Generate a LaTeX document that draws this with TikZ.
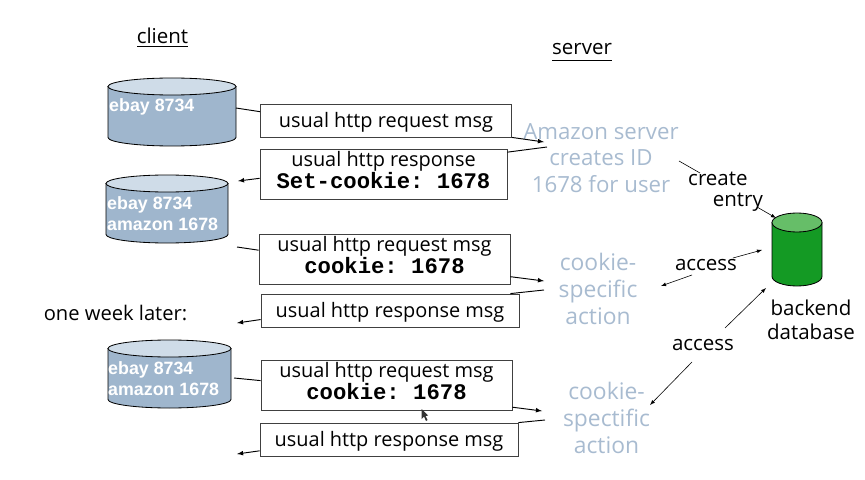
\documentclass[tikz,border=0pt]{standalone}
\usepackage{fontspec}
\setmainfont{Open Sans}
\setsansfont{Liberation Sans}
\setmonofont{Liberation Mono}
\usetikzlibrary{positioning,shapes,arrows}

\definecolor{dbblue}{HTML}{9FB6CD}
\definecolor{dbbluetop}{HTML}{CFDCE8}
\definecolor{servertxt}{HTML}{A8BBD0}
\definecolor{dbgreen}{HTML}{149A24}
\definecolor{dbgreentop}{HTML}{66BE68}

% center x, top y, bottom y, x radius, y radius, body colour, top colour
\newcommand{\dbcan}[7]{
  \draw[line width=0.7, fill=#6] (#1-#4,#2+#5) -- (#1-#4,#3-#5)
    arc[start angle=180, end angle=0, x radius=#4, y radius=#5] -- (#1+#4,#2+#5) -- cycle;
  \draw[line width=0.7, fill=#7] (#1,#2+#5) ellipse[x radius=#4, y radius=#5];
}
\newcommand{\cookiefont}{\ttfamily\bfseries\fontsize{19}{21}\selectfont}

\tikzset{
  msgbox/.style={draw=black!75, line width=0.7, fill=white, inner sep=0, align=center, font=\fontsize{17}{19}\selectfont},
  msgsingle/.style={msgbox, text height=12pt, text depth=0pt},
  msgdouble/.style={msgbox, text depth=7pt},
  dbtext/.style={text=white, font=\sffamily\bfseries\fontsize{15.2}{18}\selectfont, align=left, inner sep=0, anchor=north west},
  servertext/.style={text=servertxt, align=center, inner sep=0, font=\fontsize{19.5}{23}\selectfont},
  blacktext/.style={text=black, align=center, inner sep=0, font=\fontsize{17.5}{20}\selectfont},
  msgline/.style={line width=0.8, black},
  msgarrow/.style={line width=0.8, black, -latex},
  thinarrow/.style={line width=0.5, black, -latex}
}

\begin{document}
\begin{tikzpicture}[x=0.03cm, y=-0.03cm]
\useasboundingbox (0,0) rectangle (865,480);

% client storage
\dbcan{172}{78}{146}{64}{8.5}{dbblue}{dbbluetop}
\dbcan{167}{175}{243}{61}{8.5}{dbblue}{dbbluetop}
\dbcan{169.5}{340}{408}{61.5}{8.5}{dbblue}{dbbluetop}
\node[dbtext] (cookietxt1) at (109,98) {ebay 8734};
\node[dbtext] (cookietxt2) at (107,196) {ebay 8734\\amazon 1678};
\node[dbtext] (cookietxt3) at (108,361) {ebay 8734\\amazon 1678};

% messages
\node[msgsingle, minimum width=7.53cm, minimum height=0.99cm] (req1) at (386,120.5) {usual http request msg};
\node[msgdouble, minimum width=7.41cm, minimum height=1.5cm] (resp1) at (383.5,174) {usual http response\\[-1pt]{\cookiefont Set-cookie: 1678}};
\node[msgdouble, minimum width=7.53cm, minimum height=1.5cm] (req2) at (384.5,259) {usual http request msg\\[-1pt]{\cookiefont cookie: 1678}};
\node[msgsingle, minimum width=7.74cm, minimum height=0.99cm] (resp2) at (390,310.5) {usual http response msg};
\node[msgdouble, minimum width=7.53cm, minimum height=1.5cm] (req3) at (386.5,385) {usual http request msg\\[-1pt]{\cookiefont cookie: 1678}};
\node[msgsingle, minimum width=7.74cm, minimum height=0.99cm] (resp3) at (389,439.5) {usual http response msg};

% server side
\node[servertext, font=\fontsize{19}{22.5}\selectfont] (amazon) at (601,158) {Amazon server\\creates ID\\1678 for user};
\node[servertext] (action1) at (598,289) {cookie-\\specific\\action};
\node[servertext] (action2) at (606.5,418) {cookie-\\spectific\\action};

% backend
\dbcan{797}{213}{286}{25}{9.5}{dbgreen}{dbgreentop}
\node[blacktext] (backendtxt) at (811,320) {backend\\database};

% labels
\node[blacktext] (client) at (162.5,36) {client};
\draw[line width=0.8] (137,46) -- (188,46);
\node[blacktext] (server) at (582,49) {server};
\draw[line width=0.8] (552,60) -- (612,60);
\node[blacktext, font=\fontsize{17.2}{20}\selectfont] (later) at (115.5,313) {one week later:};
\node[blacktext, align=left, anchor=north west, font=\fontsize{17.5}{18}\selectfont] (create) at (688,172) {create\\\hspace*{21pt}entry};
\node[blacktext] (access1) at (706,265) {access};
\node[blacktext] (access2) at (703,345) {access};

% free ends
\coordinate (a1) at (236,108);
\coordinate (a2) at (544,142);
\coordinate (a3) at (547,147);
\coordinate (a4) at (238,181);
\coordinate (a5) at (237,247);
\coordinate (a6) at (544,281);
\coordinate (a7) at (544,290);
\coordinate (a8) at (237,323);
\coordinate (a9) at (234,378);
\coordinate (a10) at (542,411);
\coordinate (a11) at (545,420);
\coordinate (a12) at (237,454);
\coordinate (b1) at (679,161);
\coordinate (b2) at (700,173);
\coordinate (b3) at (757,207);
\coordinate (b4) at (776,218);
\coordinate (b5) at (733,258);
\coordinate (b6) at (762,250);
\coordinate (b7) at (692,275);
\coordinate (b8) at (661,286);
\coordinate (b9) at (725,328);
\coordinate (b10) at (766,288);
\coordinate (b11) at (692,362);
\coordinate (b12) at (650,405);

% connectors
\draw[msgline] (a1) -- (req1.176);
\draw[msgarrow] (req1.south east) -- (a2);
\draw[msgline] (a3) -- (resp1.10);
\draw[msgarrow] (resp1.182) -- (a4);
\draw[msgline] (a5) -- (req2.176);
\draw[msgarrow] (req2.-8) -- (a6);
\draw[msgline] (a7) -- (resp2.8);
\draw[msgarrow] (resp2.184) -- (a8);
\draw[msgline] (a9) -- (req3.178);
\draw[msgarrow] (req3.-10) -- (a10);
\draw[msgline] (a11) -- (resp3.north east);
\draw[msgarrow] (resp3.185) -- (a12);
\draw[line width=0.5] (b1) -- (b2);
\draw[thinarrow] (b3) -- (b4);
\draw[thinarrow] (b5) -- (b6);
\draw[thinarrow] (b7) -- (b8);
\draw[thinarrow] (b9) -- (b10);
\draw[thinarrow] (b11) -- (b12);

% pointer
\fill[black!80] (421.5,409) -- (421.5,419) -- (424,416.5) -- (426,421) -- (427.5,420) -- (425.5,416) -- (428,415.5) -- cycle;
\end{tikzpicture}
\end{document}
